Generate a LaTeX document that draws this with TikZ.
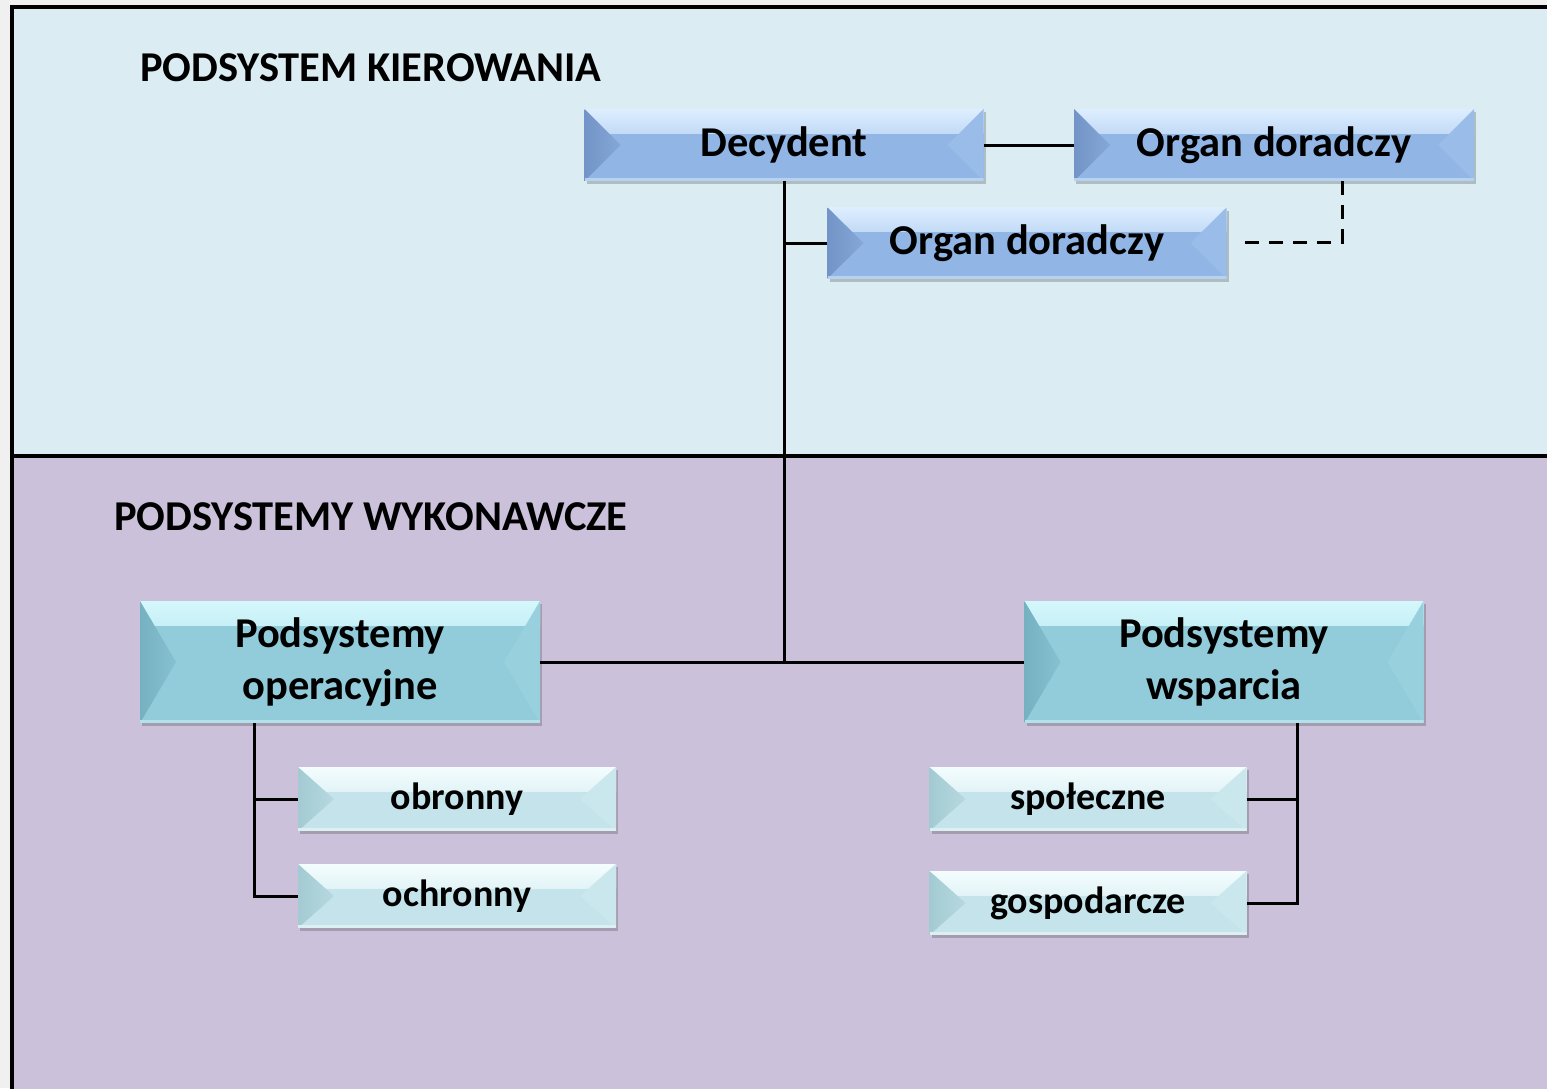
\documentclass[tikz,border=0pt]{standalone}
\usepackage{fontspec}
\setmainfont{Carlito}
\usetikzlibrary{shadows}
\definecolor{bgout}{HTML}{F0F0F0}
\definecolor{topbg}{HTML}{DBEDF3}
\definecolor{botbg}{HTML}{CBC1DB}
\definecolor{blueM}{HTML}{91B5E4}
\definecolor{blueT}{HTML}{DDEEFF}
\definecolor{blueL}{HTML}{7294C6}
\definecolor{blueR}{HTML}{9ABCE8}
\definecolor{tealM}{HTML}{92CCDB}
\definecolor{tealT}{HTML}{D4F8FC}
\definecolor{tealL}{HTML}{76B1C1}
\definecolor{tealR}{HTML}{98D0DE}
\definecolor{paleM}{HTML}{C4E3EA}
\definecolor{paleT}{HTML}{F4FDFE}
\definecolor{paleL}{HTML}{A3CAD2}
\definecolor{paleR}{HTML}{C9E7ED}
\tikzset{
  bev/.style 2 args={
    fill=#1M, inner sep=0pt, minimum width=#2pt, align=center,
    drop shadow={shadow xshift=2pt, shadow yshift=-3pt, opacity=0.3, fill=black!70},
    path picture={
      \shade[top color=#1T, bottom color=#1M] (path picture bounding box.north west)
        rectangle ([yshift=-24pt]path picture bounding box.north east);
      \shade[left color=#1L, right color=#1L!40!#1M] (path picture bounding box.north west)
        -- ([xshift=36pt]path picture bounding box.west)
        -- (path picture bounding box.south west) -- cycle;
      \fill[#1R] (path picture bounding box.north east)
        -- ([xshift=-36pt]path picture bounding box.east)
        -- (path picture bounding box.south east) -- cycle;
      \fill[#1T!50!#1M] (path picture bounding box.south west)
        rectangle ([yshift=3pt]path picture bounding box.south east);
    }
  },
  conn/.style={line width=3pt, black},
  title/.style={font=\bfseries\fontsize{42.5}{48}\selectfont, anchor=west, inner sep=0pt},
  big/.style={font=\bfseries\fontsize{42.5}{52}\selectfont},
  small/.style={font=\bfseries\fontsize{38}{44}\selectfont}
}
\begin{document}
\begin{tikzpicture}[x=1pt,y=-1pt]
\useasboundingbox (0,0) rectangle (1547,1088);
\fill[bgout] (0,0) rectangle (1547,1088);
\fill[topbg] (12,7) rectangle (1560,456);
\fill[botbg] (12,456) rectangle (1560,1100);
\draw[line width=4pt] (1560,7) -- (12,7) -- (12,1100);
\draw[line width=4pt] (12,456) -- (1560,456);

\node[title] (t1) at (140,68) {PODSYSTEM KIEROWANIA};
\node[title] (t2) at (114,517) {PODSYSTEMY WYKONAWCZE};

\node[bev={blue}{399}, minimum height=72pt, big] (dec) at (784,145) {Decydent};
\node[bev={blue}{400}, minimum height=72pt, big] (org1) at (1274,145) {Organ doradczy};
\node[bev={blue}{399}, minimum height=71pt, big] (org2) at (1027,243) {Organ doradczy};

\node[bev={teal}{400}, minimum height=122pt, big] (op) at (340,662) {Podsystemy\\operacyjne};
\node[bev={teal}{399}, minimum height=122pt, big] (ws) at (1224,662) {Podsystemy\\wsparcia};

\node[bev={pale}{318}, minimum height=64pt, small] (obr) at (457,799) {obronny};
\node[bev={pale}{318}, minimum height=64pt, small] (och) at (457,896) {ochronny};
\node[bev={pale}{317}, minimum height=64pt, small] (spo) at (1088,799) {społeczne};
\node[bev={pale}{317}, minimum height=64pt, small] (gos) at (1088,903) {gospodarcze};

\coordinate (hub) at (784,661);
\coordinate (dk) at (1342,242);
\coordinate (lt) at (254,0);
\coordinate (rt) at (1297,0);

\draw[conn] (dec.east) -- (org1.west);
\draw[conn] (dec.south) -- (hub);
\draw[conn] (org2.west) -- (org2.west -| dec.south);
\draw[conn, dash pattern=on 14pt off 10pt] (org1.south -| dk) -- (dk) -- ([xshift=10pt]org2.east |- dk);
\draw[conn] (op.east) -- (ws.west);
\draw[conn] (op.south -| lt) |- (och.west);
\draw[conn] (obr.west) -- (obr.west -| lt);
\draw[conn] (ws.south -| rt) |- (gos.east);
\draw[conn] (spo.east) -- (spo.east -| rt);
\end{tikzpicture}
\end{document}
